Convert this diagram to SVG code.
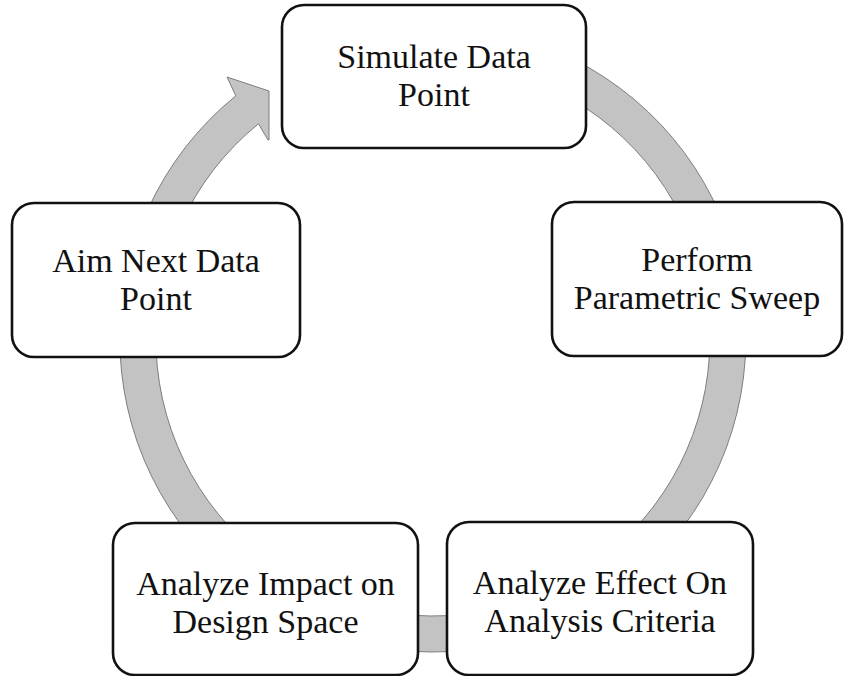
<svg xmlns="http://www.w3.org/2000/svg" width="844" height="676" viewBox="0 0 844 676">
  <style>
    .ring { fill: #c3c3c3; stroke: #7d7d7d; stroke-width: 1; stroke-linejoin: miter; }
    .box { fill: #ffffff; stroke: #111111; stroke-width: 2.6; }
    .label { font-family: "Liberation Serif", "Times New Roman", serif; font-size: 34px; fill: #111111; text-anchor: middle; }
  </style>
  <rect width="844" height="676" fill="#ffffff"/>

  <!-- continuous cycle arrow behind the steps -->
  <g id="connectors">
    <path class="ring" d="M 235.8 95.8 A 313 313 0 1 0 433 26 L 433 62 A 277 277 0 1 1 258.5 123.8 L 268 140 L 269 140 L 269 91 L 227 77 Z"/>
  </g>

  <g id="node-simulate">
    <rect class="box" x="282" y="5" width="304" height="143" rx="22" ry="22"/>
    <text class="label" x="434" y="68">Simulate Data</text>
    <text class="label" x="434" y="106">Point</text>
  </g>

  <g id="node-sweep">
    <rect class="box" x="552" y="202" width="290" height="154" rx="22" ry="22"/>
    <text class="label" x="697" y="271">Perform</text>
    <text class="label" x="697" y="309">Parametric Sweep</text>
  </g>

  <g id="node-effect">
    <rect class="box" x="447" y="522" width="306" height="153" rx="22" ry="22"/>
    <text class="label" x="600" y="594">Analyze Effect On</text>
    <text class="label" x="600" y="632">Analysis Criteria</text>
  </g>

  <g id="node-impact">
    <rect class="box" x="113" y="523" width="305" height="152" rx="22" ry="22"/>
    <text class="label" x="265.5" y="595">Analyze Impact on</text>
    <text class="label" x="265.5" y="633">Design Space</text>
  </g>

  <g id="node-aim">
    <rect class="box" x="12" y="203" width="288" height="154" rx="22" ry="22"/>
    <text class="label" x="156" y="272">Aim Next Data</text>
    <text class="label" x="156" y="310">Point</text>
  </g>
</svg>
